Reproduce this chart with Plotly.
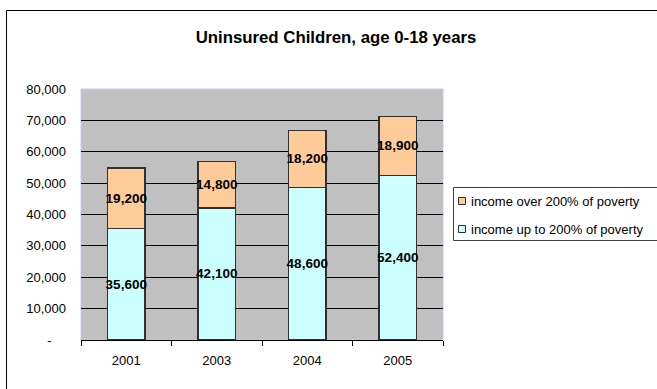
import plotly.graph_objects as go

years = ["2001", "2003", "2004", "2005"]
up_to_200 = [35600, 42100, 48600, 52400]
over_200 = [19200, 14800, 18200, 18900]
series_names = ["income over 200% of poverty", "income up to 200% of poverty"]
series_colors = ["#FFCC99", "#CCFFFF"]
y_ticks = [0, 10000, 20000, 30000, 40000, 50000, 60000, 70000, 80000]
y_ticktext = ["-\u00a0\u00a0\u00a0\u00a0", "10,000", "20,000", "30,000", "40,000",
              "50,000", "60,000", "70,000", "80,000"]

W, H = 657, 389
L, R, T, B = 81, 214, 89, 49
pw, ph = W - L - R, H - T - B
FONT = "Liberation Sans, Arial"


def px(x):
    return (x - L) / pw


def py(y):
    return (H - B - y) / ph


def hline(x0, x1, y, color):
    fig.add_shape(type="line", xref="paper", yref="paper",
                  x0=px(x0), x1=px(x1), y0=py(y), y1=py(y),
                  line=dict(color=color, width=1))


def vline(x, y0, y1, color):
    fig.add_shape(type="line", xref="paper", yref="paper",
                  x0=px(x), x1=px(x), y0=py(y0), y1=py(y1),
                  line=dict(color=color, width=1))


label_font = dict(family=FONT, size=13.5, color="#000000", weight="bold")

fig = go.Figure()
fig.add_trace(go.Bar(
    x=years, y=up_to_200, name=series_names[1],
    marker=dict(color=series_colors[1], line=dict(color="#303030", width=1.2)),
    text=[f"{v:,}" for v in up_to_200], textposition="inside", textangle=0,
    insidetextanchor="middle", constraintext="none", textfont=label_font,
    showlegend=False,
))
fig.add_trace(go.Bar(
    x=years, y=over_200, name=series_names[0],
    marker=dict(color=series_colors[0], line=dict(color="#303030", width=1.2)),
    text=[f"{v:,}" for v in over_200], textposition="inside", textangle=0,
    insidetextanchor="middle", constraintext="none", textfont=label_font,
    showlegend=False,
))

fig.update_layout(
    width=W, height=H, barmode="stack", bargap=0.585,
    margin=dict(l=L, r=R, t=T, b=B, autoexpand=False),
    paper_bgcolor="#FFFFFF", plot_bgcolor="#C0C0C0",
    font=dict(family=FONT, size=13, color="#000000"),
    title=dict(text="<b>Uninsured Children, age 0-18 years</b>", x=336 / W, xanchor="center",
               y=1 - 37 / H, yanchor="middle", yref="container",
               font=dict(size=16.8, color="#000000")),
    showlegend=False,
)
fig.update_xaxes(showline=True, linecolor="#000000", linewidth=1, ticks="outside",
                 tickson="boundaries", ticklen=5, tickcolor="#000000",
                 showgrid=False, tickfont=dict(size=13), ticklabelstandoff=8)
fig.update_yaxes(range=[0, 80000], tickvals=y_ticks, ticktext=y_ticktext,
                 showgrid=True, gridcolor="#000000", gridwidth=1,
                 showline=False, ticks="", zeroline=False, ticklabelstandoff=14,
                 tickfont=dict(size=13))

# outer chart border (only left and top edges fall inside the picture)
hline(6.5, W + 2, 10.5, "#000000")
vline(6.5, 10.5, H + 2, "#000000")
# plot area border
fig.add_shape(type="rect", xref="paper", yref="paper", x0=0, x1=1, y0=0, y1=1,
              line=dict(color="#C8C8F0", width=1), layer="below")

# legend (drawn manually to match the original layout; its right edge is off-picture)
fig.add_shape(type="rect", xref="paper", yref="paper",
              x0=px(453.5), x1=px(W + 2), y0=py(240.5), y1=py(187.5),
              line=dict(width=0), fillcolor="#FFFFFF")
hline(453.5, W + 2, 187.5, "#404040")
hline(453.5, W + 2, 240.5, "#404040")
vline(453.5, 187.5, 240.5, "#404040")
row_y = [201, 229]
for name, color, yc in zip(series_names, series_colors, row_y):
    fig.add_shape(type="rect", xref="paper", yref="paper",
                  x0=px(458.5), x1=px(465.5), y0=py(yc + 3.5), y1=py(yc - 3.5),
                  line=dict(color="#303030", width=1), fillcolor=color)
    fig.add_annotation(xref="paper", yref="paper", x=px(469), y=py(yc),
                       xanchor="left", yanchor="middle", showarrow=False,
                       text=name, font=dict(family=FONT, size=13, color="#000000"))

fig.write_html("out.html")
